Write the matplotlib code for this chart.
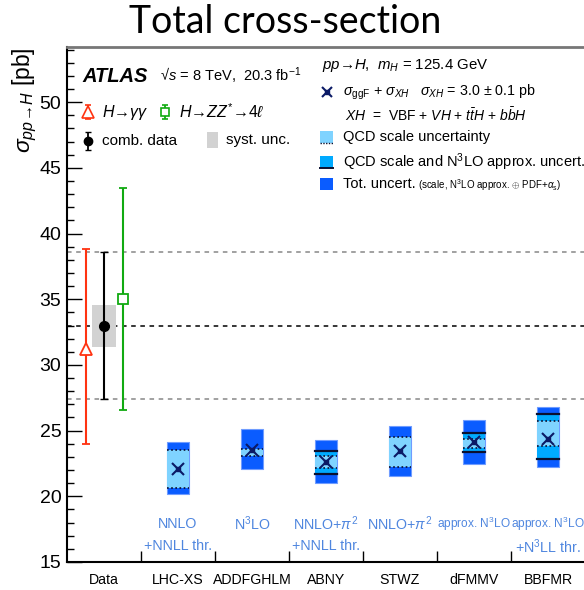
import numpy as np
import matplotlib
matplotlib.use('Agg')
import matplotlib.pyplot as plt
from matplotlib.patches import Rectangle

plt.rcParams['font.family'] = ['Liberation Sans', 'DejaVu Sans']
plt.rcParams['mathtext.fontset'] = 'custom'
plt.rcParams['mathtext.rm'] = 'Liberation Sans'
plt.rcParams['mathtext.it'] = 'Liberation Sans:italic'
plt.rcParams['mathtext.bf'] = 'Liberation Sans:bold'

# ---- data ----
categories = ['Data', 'LHC-XS', 'ADDFGHLM', 'ABNY', 'STWZ', 'dFMMV', 'BBFMR']
order_line1 = ['NNLO', r'N$^3$LO', 'NNLO+$\\pi^2$', 'NNLO+$\\pi^2$',
               r'approx. N$^3$LO', r'approx. N$^3$LO']
order_line2 = ['+NNLL thr.', '', '+NNLL thr.', '', '', '+N$^3$LL thr.']

# measurements
yy_val, yy_lo, yy_hi = 31.2, 24.0, 38.8
zz_val, zz_lo, zz_hi = 35.0, 26.6, 43.5
comb_val, comb_lo, comb_hi = 33.0, 27.4, 38.6
comb_syst_lo, comb_syst_hi = 31.4, 34.55

# theory predictions
central = [22.1, 23.55, 22.58, 23.42, 24.13, 24.33]
tot_lo = [20.15, 22.05, 20.98, 21.56, 22.48, 22.22]
tot_hi = [24.1, 25.1, 24.28, 25.34, 25.8, 26.81]
n3lo_lo = [np.nan, np.nan, 21.71, np.nan, 23.39, 22.86]
n3lo_hi = [np.nan, np.nan, 23.46, np.nan, 24.79, 26.3]
scale_lo = [20.65, 23.08, 22.17, 22.22, 23.65, 23.82]
scale_hi = [23.5, 23.57, 23.06, 24.55, 24.38, 25.77]

c_dark = '#0a5cff'
c_mid = '#00aaff'
c_light = '#7fd3ff'
c_txt = '#4f86df'
c_navy = '#0b1a66'

W, H = 584, 590
fig = plt.figure(figsize=(W / 100, H / 100), dpi=100)
ax = fig.add_axes([67 / W, 1 - 562 / H, 518 / W, 515 / H])
ax.set_xlim(0, 7)
ax.set_ylim(15, 54.2)


def P(px, py):
    # pixel position -> axes fraction
    return (px - 67) / 518, (562 - py) / 515


# dashed reference lines
ax.axhline(comb_hi, color='#888888', lw=1.1, dashes=(3, 3), zorder=1)
ax.axhline(comb_lo, color='#888888', lw=1.1, dashes=(3, 3), zorder=1)
ax.axhline(comb_val, color='black', lw=1.1, dashes=(3, 3), zorder=1)

# data column
ax.add_patch(Rectangle((0.5 - 0.158, comb_syst_lo), 0.316, comb_syst_hi - comb_syst_lo,
                       color='#d2d2d2', lw=0, zorder=2))
ax.errorbar([0.25], [yy_val], yerr=[[yy_val - yy_lo], [yy_hi - yy_val]], fmt='^',
            color='#ff3311', mfc='white', mec='#ff3311', ms=9, mew=1.3,
            capsize=3, lw=1.5, zorder=3)
ax.errorbar([0.75], [zz_val], yerr=[[zz_val - zz_lo], [zz_hi - zz_val]], fmt='s',
            color='#11aa11', mfc='white', mec='#11aa11', ms=7, mew=1.3,
            capsize=3, lw=1.5, zorder=3)
ax.errorbar([0.5], [comb_val], yerr=[[comb_val - comb_lo], [comb_hi - comb_val]], fmt='o',
            color='black', ms=7, capsize=3, lw=1.5, zorder=4)

# theory boxes
bw = 0.31
for i in range(len(central)):
    x = i + 1.5
    ax.add_patch(Rectangle((x - bw / 2, tot_lo[i]), bw, tot_hi[i] - tot_lo[i],
                           facecolor=c_dark, edgecolor='#6f9cff', lw=0.8, zorder=2))
    if not np.isnan(n3lo_lo[i]):
        ax.add_patch(Rectangle((x - bw / 2, n3lo_lo[i]), bw, n3lo_hi[i] - n3lo_lo[i],
                               facecolor=c_mid, lw=0, zorder=3))
        for v in (n3lo_lo[i], n3lo_hi[i]):
            ax.plot([x - bw / 2, x + bw / 2], [v, v], color='#0a1030', lw=1.6, zorder=4)
    ax.add_patch(Rectangle((x - bw / 2, scale_lo[i]), bw, scale_hi[i] - scale_lo[i],
                           facecolor=c_light, lw=0, zorder=3))
    for v in (scale_lo[i], scale_hi[i]):
        ax.plot([x - bw / 2, x + bw / 2], [v, v], color='#0a1030', lw=1.2,
                ls=(0, (1, 1.5)), zorder=4)
    ax.plot(x, central[i], marker='x', ms=8, mew=1.5, color=c_navy, zorder=5)
    ax.plot(x, central[i], marker='s', ms=3.5, color=c_navy, zorder=5)
    small = order_line1[i].startswith('approx')
    ax.text(x, 17.9, order_line1[i], color=c_txt, ha='center', va='center',
            fontsize=8.6 if small else 10.3, zorder=5)
    ax.text(x, 16.2, order_line2[i], color=c_txt, ha='center', va='center',
            fontsize=10.3, zorder=5)

# axes styling
ax.set_xticks(np.arange(1, 7))
ax.set_xticklabels([])
ax.set_xticks(np.arange(7) + 0.5, minor=True)
ax.set_xticklabels(categories, minor=True, fontsize=10.2)
ax.tick_params(axis='x', which='major', direction='in', length=8, width=1)
ax.tick_params(axis='x', which='minor', length=0, pad=8)
ax.set_yticks(np.arange(15, 51, 5))
ax.set_yticks(np.arange(15, 55, 1), minor=True)
ax.tick_params(axis='y', which='major', direction='in', length=11, width=1, labelsize=14, pad=4)
ax.tick_params(axis='y', which='minor', direction='in', length=5, width=1)
ax.spines['left'].set_linewidth(1.5)
ax.spines['bottom'].set_linewidth(1.5)
ax.spines['top'].set_color('#777777')
ax.spines['top'].set_linewidth(2)
ax.spines['right'].set_visible(False)

fig.text(25 / W, 1 - 47 / H, r'$\sigma_{pp\!\rightarrow\!H}$ [pb]', rotation=90,
         ha='center', va='top', fontsize=16.5)
fig.text(285 / W, 1 - 22 / H, 'Total cross-section', family='Lato',
         ha='center', va='center', fontsize=27)

# left legend block
ax.text(*P(82, 76), 'ATLAS', transform=ax.transAxes, fontsize=14.5, weight='bold',
        style='italic', va='center')
ax.text(*P(160, 76), '√$s$ = 8 TeV,  20.3 fb$^{-1}$', transform=ax.transAxes,
        fontsize=10.5, va='center')
ax.errorbar(*P(88, 112), yerr=7 / 515, fmt='^', color='#ff3311', mfc='white', ms=8,
            mew=1.2, capsize=2.5, lw=1.3, transform=ax.transAxes, clip_on=False)
ax.text(*P(102, 112), '$H$→$\\gamma\\gamma$', transform=ax.transAxes,
        fontsize=11.5, va='center')
ax.errorbar(*P(165, 112), yerr=7 / 515, fmt='s', color='#11aa11', mfc='white', ms=6,
            mew=1.2, capsize=2.5, lw=1.3, transform=ax.transAxes, clip_on=False)
ax.text(*P(179, 112), '$H$→$ZZ^{*}$→$4\\ell$', transform=ax.transAxes,
        fontsize=11.5, va='center')
ax.errorbar(*P(88, 141), yerr=9 / 515, fmt='o', color='black', ms=6, capsize=2.5,
            lw=1.3, transform=ax.transAxes, clip_on=False)
ax.text(*P(102, 141), 'comb. data', transform=ax.transAxes, fontsize=11, va='center')
ax.add_patch(Rectangle(P(207, 148), 11 / 518, 16 / 515, color='#d2d2d2', lw=0,
                       transform=ax.transAxes))
ax.text(*P(226, 140), 'syst. unc.', transform=ax.transAxes, fontsize=11, va='center')

# right legend block
ax.text(*P(322, 66), '$pp$→$H$,  $m_H$ = 125.4 GeV', transform=ax.transAxes,
        fontsize=10.8, va='center')
ax.plot(*P(327, 92), marker='x', ms=7, mew=1.5, color=c_navy, transform=ax.transAxes)
ax.plot(*P(327, 92), marker='s', ms=3, color=c_navy, transform=ax.transAxes)
ax.text(*P(343, 92), r'$\sigma_{\rm ggF}$ + $\sigma_{XH}$   $\sigma_{XH}$ = 3.0 $\pm$ 0.1 pb',
        transform=ax.transAxes, fontsize=10.3, va='center')
ax.text(*P(345, 115), r'$XH$  =  VBF + $VH$ + $t\bar{t}H$ + $b\bar{b}H$',
        transform=ax.transAxes, fontsize=10, va='center')
for py, fc, edge in [(137, c_light, 'dot'), (162, c_mid, 'solid'), (184, c_dark, None)]:
    ax.add_patch(Rectangle(P(320, py + 6), 13 / 518, 12 / 515, facecolor=fc, lw=0,
                           transform=ax.transAxes))
    if edge == 'dot':
        ax.plot([P(320, 0)[0], P(333, 0)[0]], [P(0, py + 6)[1]] * 2, color='#0a1030',
                lw=1, ls=(0, (1, 1)), transform=ax.transAxes)
    elif edge == 'solid':
        ax.plot([P(320, 0)[0], P(333, 0)[0]], [P(0, py + 6)[1]] * 2, color='#0a1030',
                lw=1.4, transform=ax.transAxes)
ax.text(*P(343, 137), 'QCD scale uncertainty', transform=ax.transAxes, fontsize=10.5,
        va='center')
ax.text(*P(343, 162), r'QCD scale and N$^3$LO approx. uncert.', transform=ax.transAxes,
        fontsize=10.5, va='center')
ax.text(*P(343, 184), 'Tot. uncert.', transform=ax.transAxes, fontsize=10.5, va='center')
ax.text(*P(418, 185), r'(scale, N$^3$LO approx. $\oplus$ PDF+$\alpha_{\rm s}$)',
        transform=ax.transAxes, fontsize=7, va='center')

fig.savefig('out.png', dpi=100)
